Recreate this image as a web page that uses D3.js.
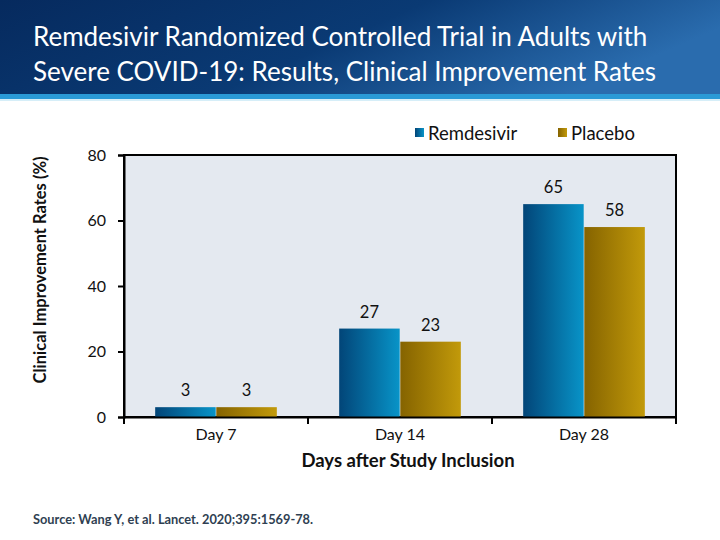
<!DOCTYPE html>
<html><head><meta charset="utf-8">
<script src="https://cdn.jsdelivr.net/npm/d3@7"></script>
<style>body{margin:0;background:#fff;}svg{display:block;}</style>
</head><body>
<script>
const categories = ["Day 7", "Day 14", "Day 28"];
const seriesNames = ["Remdesivir", "Placebo"];
const remdesivir = [3, 27, 65];
const placebo = [3, 23, 58];
const yTicks = [0, 20, 40, 60, 80];
const titleLines = ["Remdesivir Randomized Controlled Trial in Adults with", "Severe COVID-19: Results, Clinical Improvement Rates"];

const W = 720, H = 540;
const font = "Lato, 'Open Sans', sans-serif";
const svg = d3.select("body").append("svg").attr("width", W).attr("height", H);
const defs = svg.append("defs");

const hg = defs.append("linearGradient").attr("id","hdr").attr("x1","0").attr("x2","1").attr("y1","0").attr("y2","0.3");
hg.append("stop").attr("offset","0").attr("stop-color","#062a5e");
hg.append("stop").attr("offset","0.55").attr("stop-color","#0a3a74");
hg.append("stop").attr("offset","1").attr("stop-color","#2a6cae");
svg.append("rect").attr("x",0).attr("y",0).attr("width",W).attr("height",94).attr("fill","url(#hdr)");
svg.append("rect").attr("x",0).attr("y",94).attr("width",W).attr("height",5).attr("fill","#2a9ad6");
svg.append("rect").attr("x",0).attr("y",99).attr("width",W).attr("height",2).attr("fill","#d6eef8");

svg.append("g").selectAll("text").data(titleLines).join("text")
  .attr("x",33).attr("y",(d,i)=>46+i*35).attr("fill","#fff")
  .attr("font-family",font).attr("font-size",26).text(d=>d);

const gb = defs.append("linearGradient").attr("id","gBlue");
gb.append("stop").attr("offset","0").attr("stop-color","#024578");
gb.append("stop").attr("offset","1").attr("stop-color","#0894c8");
const gg = defs.append("linearGradient").attr("id","gGold");
gg.append("stop").attr("offset","0").attr("stop-color","#856300");
gg.append("stop").attr("offset","1").attr("stop-color","#c29a0a");
const fills = ["url(#gBlue)","url(#gGold)"];

const m = {l:124, r:676, t:155, b:417};
const x = d3.scaleBand().domain(categories).range([m.l, m.r]).paddingInner(0).paddingOuter(0);
const xs = d3.scaleBand().domain(seriesNames).range([0, x.bandwidth()]).paddingInner(0.01).paddingOuter(0.51);
const y = d3.scaleLinear().domain([0, 80]).range([m.b, m.t]);

svg.append("rect").attr("x",m.l).attr("y",m.t).attr("width",m.r-m.l).attr("height",m.b-m.t)
  .attr("fill","#e4e9f0").attr("stroke","#000").attr("stroke-width",2);

const data = categories.map((c,i)=>({c, vals:[remdesivir[i], placebo[i]]}));
const grp = svg.append("g").selectAll("g").data(data).join("g").attr("transform",d=>`translate(${x(d.c)},0)`);
grp.selectAll("rect").data(d=>d.vals.map((v,j)=>({v,s:seriesNames[j],j}))).join("rect")
  .attr("x",d=>xs(d.s)).attr("width",xs.bandwidth())
  .attr("y",d=>y(d.v)).attr("height",d=>y(0)-y(d.v)).attr("fill",d=>fills[d.j]);
grp.selectAll("text").data(d=>d.vals.map((v,j)=>({v,s:seriesNames[j],j}))).join("text")
  .attr("x",d=>xs(d.s)+xs.bandwidth()/2).attr("y",d=>y(d.v)-11)
  .attr("text-anchor","middle").attr("font-family",font).attr("font-size",16.5).attr("fill","#111").text(d=>d.v);

const ya = svg.append("g").attr("transform",`translate(${m.l},0)`)
  .call(d3.axisLeft(y).tickValues(yTicks).tickSize(6).tickPadding(12));
ya.select(".domain").attr("stroke","#000").attr("stroke-width",2);
ya.selectAll("line").attr("stroke","#000").attr("stroke-width",2);
ya.selectAll("text").attr("font-family",font).attr("font-size",16).attr("fill","#111");

const xa = svg.append("g").attr("transform",`translate(0,${m.b})`)
  .call(d3.axisBottom(x).tickSize(0).tickPadding(12));
xa.select(".domain").attr("stroke","#000").attr("stroke-width",2);
xa.selectAll("text").attr("font-family",font).attr("font-size",16).attr("fill","#111");
const bounds = categories.map(c=>x(c)).concat([m.r]);
svg.append("g").selectAll("line").data(bounds).join("line")
  .attr("x1",d=>d).attr("x2",d=>d).attr("y1",m.b).attr("y2",m.b+7).attr("stroke","#000").attr("stroke-width",2);

svg.append("text").attr("x",(m.l+m.r)/2+8).attr("y",467).attr("text-anchor","middle")
  .attr("font-family",font).attr("font-weight","bold").attr("font-size",18.5).attr("fill","#111")
  .text("Days after Study Inclusion");
svg.append("text").attr("transform",`translate(46,270) rotate(-90)`).attr("text-anchor","middle")
  .attr("font-family",font).attr("font-weight","bold").attr("font-size",16.5).attr("fill","#111")
  .text("Clinical Improvement Rates (%)");

const leg = svg.append("g").selectAll("g").data(seriesNames).join("g")
  .attr("transform",(d,i)=>`translate(${[415,558][i]},0)`);
leg.append("rect").attr("x",0).attr("y",128).attr("width",9).attr("height",9).attr("fill",(d,i)=>fills[i]);
leg.append("text").attr("x",13).attr("y",140).attr("font-family",font).attr("font-size",18.5).attr("fill","#111").text(d=>d);

svg.append("text").attr("x",33).attr("y",524).attr("font-family",font).attr("font-weight","bold")
  .attr("font-size",12.8).attr("fill","#2f3f52").text("Source: Wang Y, et al. Lancet. 2020;395:1569-78.");
</script>
</body></html>
